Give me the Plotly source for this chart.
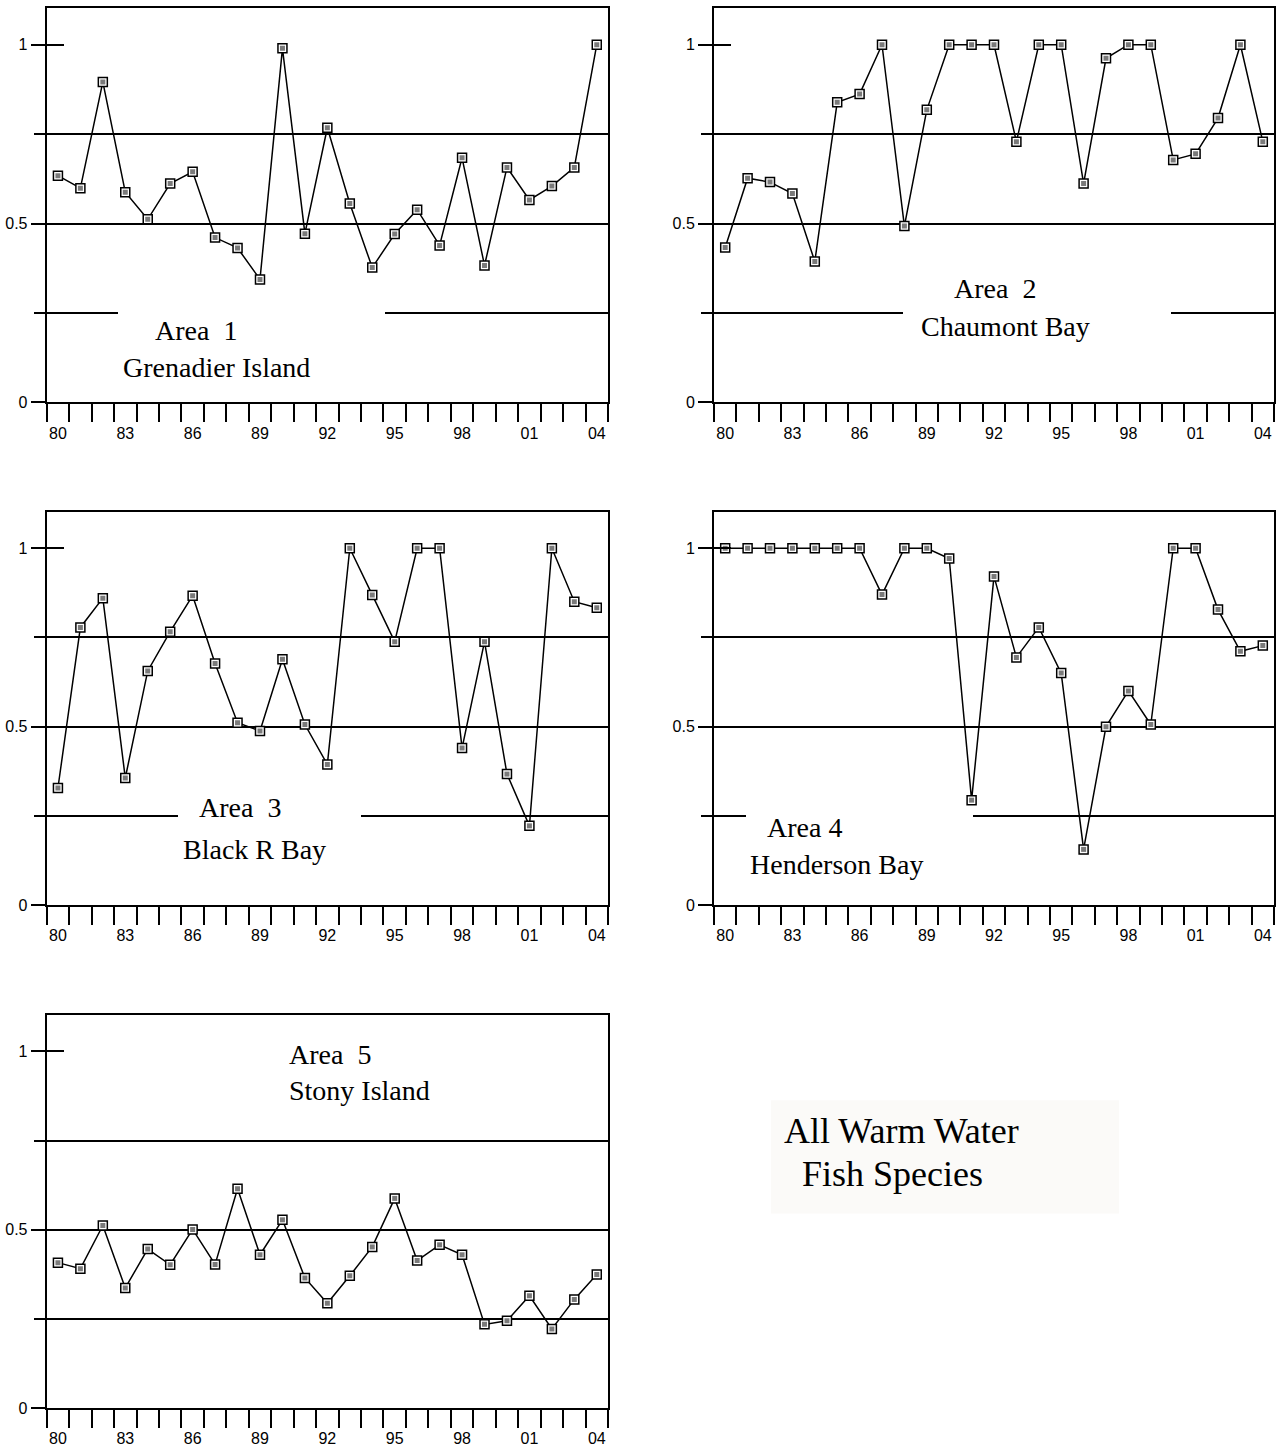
import plotly.graph_objects as go

# ---------------- data ----------------
years = ['80', '81', '82', '83', '84', '85', '86', '87', '88', '89', '90', '91', '92',
         '93', '94', '95', '96', '97', '98', '99', '00', '01', '02', '03', '04']
tick_labels = ['80', '83', '86', '89', '92', '95', '98', '01', '04']

area1 = [0.634, 0.599, 0.896, 0.588, 0.512, 0.612, 0.645, 0.461, 0.432, 0.344, 0.990, 0.472, 0.768,
         0.556, 0.377, 0.471, 0.539, 0.439, 0.684, 0.383, 0.657, 0.566, 0.605, 0.657, 1.0]
area2 = [0.433, 0.627, 0.616, 0.584, 0.394, 0.839, 0.862, 1.0, 0.493, 0.818, 1.0, 1.0, 1.0,
         0.729, 1.0, 1.0, 0.612, 0.962, 1.0, 1.0, 0.678, 0.695, 0.795, 1.0, 0.729]
area3 = [0.328, 0.778, 0.860, 0.356, 0.656, 0.766, 0.867, 0.677, 0.511, 0.488, 0.689, 0.506, 0.394,
         1.0, 0.869, 0.738, 1.0, 1.0, 0.440, 0.738, 0.367, 0.222, 1.0, 0.850, 0.833]
area4 = [1.0, 1.0, 1.0, 1.0, 1.0, 1.0, 1.0, 0.870, 1.0, 1.0, 0.971, 0.294, 0.921,
         0.694, 0.778, 0.650, 0.156, 0.500, 0.600, 0.506, 1.0, 1.0, 0.828, 0.711, 0.727]
area5 = [0.408, 0.391, 0.512, 0.337, 0.446, 0.402, 0.501, 0.403, 0.615, 0.430, 0.528, 0.365, 0.294,
         0.371, 0.452, 0.588, 0.414, 0.458, 0.430, 0.235, 0.245, 0.315, 0.222, 0.305, 0.375]

area_titles = ['Area  1', 'Area  2', 'Area  3', 'Area 4', 'Area  5']
area_names = ['Grenadier Island', 'Chaumont Bay', 'Black R Bay', 'Henderson Bay', 'Stony Island']
series = [area1, area2, area3, area4, area5]

y_major = [0, 0.5, 1]
y_major_text = ['0', '0.5', '1']
y_minor = [0.25, 0.5, 0.75]

# ---------------- layout helpers ----------------
W, H = 1278, 1454


def px(x):
    return x / W


def py(y):
    return 1 - y / H


# panel frames in pixels: (left, right, top, bottom)
frames = [(46.7, 608, 8, 405), (714, 1274, 8, 405),
          (46.7, 608, 514.7, 910.7), (714, 1274, 514.7, 910.7),
          (46.7, 608, 1021, 1417)]
YTOP = 1.1028

# label positions (pixels): (title_left, title_cy, name_left, name_cy)
label_pos = [(153, 333, 121, 370), (952, 290, 919, 329),
             (197, 813, 181, 855), (765, 833, 748, 870),
             (287, 1061, 287, 1097)]
# gaps in the 0.25 gridline (pixels) behind labels
gaps = [(118, 385), (903, 1171), (178, 361), (746, 973), None]

TICKFONT = dict(family='Liberation Sans, Arial', size=16, color='black')
SERIF = 'Liberation Serif, Times New Roman'

xs = list(range(len(years)))
fig = go.Figure()
layout = dict(width=W, height=H, margin=dict(l=0, r=0, t=0, b=0),
              plot_bgcolor='white', paper_bgcolor='white', showlegend=False)
shapes = []
annotations = []

for k, (vals, fr) in enumerate(zip(series, frames), start=1):
    l, r, t, b = fr
    xa, ya, yo = f'x{k}', f'y{k}', f'y{k + 5}'
    fig.add_trace(go.Scatter(x=xs, y=vals, xaxis=xa, yaxis=ya, mode='lines+markers',
                             line=dict(color='black', width=1.5),
                             marker=dict(symbol='square', size=9, color='white',
                                         line=dict(color='black', width=1.5)),
                             hoverinfo='skip'))
    fig.add_trace(go.Scatter(x=xs, y=vals, xaxis=xa, yaxis=yo, mode='markers',
                             marker=dict(symbol='square', size=5, color='#7a7a7a',
                                         line=dict(width=0)),
                             hoverinfo='skip'))
    layout[f'xaxis{k}'] = dict(
        domain=[px(l), px(r)], anchor=ya, range=[-0.5, len(years) - 0.5],
        tickmode='array', tickvals=xs[::3], ticktext=tick_labels,
        ticks='outside', ticklen=15, tickcolor='rgba(0,0,0,0)', tickwidth=2,
        minor=dict(tickmode='array', tickvals=[i - 0.5 for i in range(len(years) + 1)],
                   ticks='outside', ticklen=18, tickwidth=2, tickcolor='black', showgrid=False),
        showline=True, linecolor='black', linewidth=2, mirror=True,
        showgrid=False, zeroline=False, tickfont=TICKFONT)
    layout[f'yaxis{k}'] = dict(
        domain=[py(b), py(t)], anchor=xa, range=[0, YTOP],
        tickmode='array', tickvals=y_major, ticktext=y_major_text,
        ticks='outside', ticklen=14, tickwidth=2, tickcolor='black',
        minor=dict(tickmode='array', tickvals=y_minor, ticks='outside', ticklen=11,
                   tickwidth=2, tickcolor='black', showgrid=True, gridcolor='black',
                   gridwidth=2),
        showline=True, linecolor='black', linewidth=2, mirror=True,
        showgrid=False, zeroline=False, ticklabelstandoff=0, tickfont=TICKFONT)
    layout[f'yaxis{k + 5}'] = dict(
        overlaying=ya, anchor=xa, side='left', range=[0, YTOP],
        tickmode='array', tickvals=[1], ticks='inside', ticklen=17, tickwidth=2,
        tickcolor='black', showticklabels=False, showline=False, showgrid=False,
        zeroline=False)

    # white gap in 0.25 gridline
    g = gaps[k - 1]
    if g is not None:
        shapes.append(dict(type='rect', xref='paper', yref=ya,
                           x0=px(g[0]), x1=px(g[1]), y0=0.232, y1=0.268,
                           fillcolor='white', line=dict(width=0), layer='above'))
    tl, tcy, nl, ncy = label_pos[k - 1]
    annotations.append(dict(text=area_titles[k - 1], xref='paper', yref='paper',
                            x=px(tl), y=py(tcy), xanchor='left', yanchor='middle',
                            showarrow=False, font=dict(family=SERIF, size=28, color='black')))
    annotations.append(dict(text=area_names[k - 1], xref='paper', yref='paper',
                            x=px(nl), y=py(ncy), xanchor='left', yanchor='middle',
                            showarrow=False, font=dict(family=SERIF, size=28, color='black')))

# caption box
shapes.append(dict(type='rect', xref='paper', yref='paper', x0=px(771), x1=px(1119),
                   y0=py(1221), y1=py(1107), fillcolor='#fbfaf8', line=dict(width=0),
                   layer='below'))
annotations.append(dict(text='All Warm Water', xref='paper', yref='paper', x=px(782),
                        y=py(1138), xanchor='left', yanchor='middle', showarrow=False,
                        font=dict(family=SERIF, size=36, color='black')))
annotations.append(dict(text='Fish Species', xref='paper', yref='paper', x=px(800),
                        y=py(1181), xanchor='left', yanchor='middle', showarrow=False,
                        font=dict(family=SERIF, size=36, color='black')))

layout['shapes'] = shapes
layout['annotations'] = annotations
fig.update_layout(**layout)
fig.write_html('out.html')
